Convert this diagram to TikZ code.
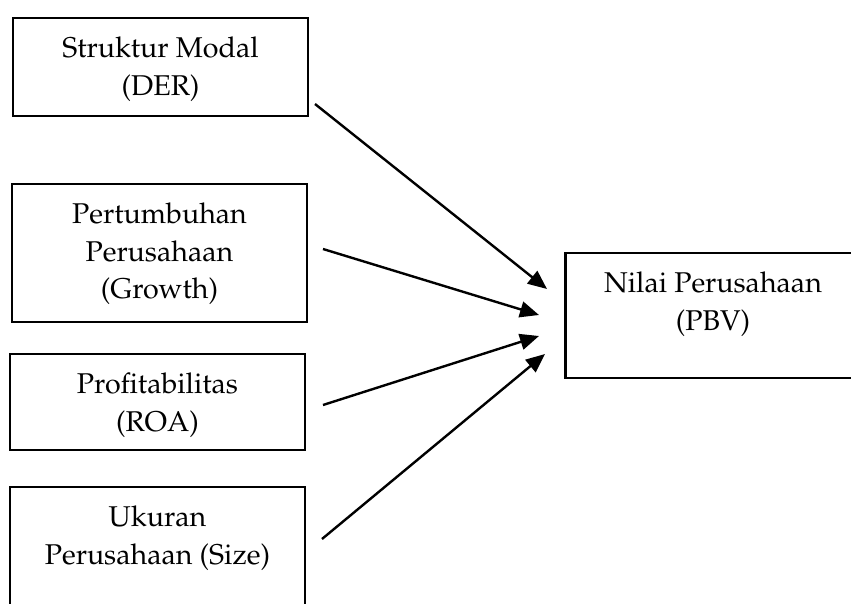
\documentclass[tikz,border=0pt]{standalone}
\IfFileExists{mathpazo.sty}{\usepackage[T1]{fontenc}\usepackage{mathpazo}}{\usepackage{fontspec}\setmainfont{Liberation Serif}}
\usetikzlibrary{arrows.meta}

\tikzset{
  kotak/.style={draw, line width=1.2pt, align=center, anchor=north,
    minimum width=147.5pt, inner sep=0pt, text height=38.5pt,
    font=\fontsize{14.3}{18.75}\selectfont},
  panah/.style={-{Triangle[length=9.5pt,width=8pt]}, line width=1.2pt},
}

\begin{document}
\begin{tikzpicture}[x=0.5pt, y=-0.5pt]

    \useasboundingbox (0,0) rectangle (851,604);
    \clip (0,0) rectangle (851,604);

    % VARIABEL X
    \node[kotak, text depth=10.5pt] (der) at (160.5,17) {Struktur Modal\\(DER)};
    \node[kotak, text height=57.25pt, text depth=11.75pt] (growth) at (159.5,183) {Pertumbuhan\\Perusahaan\\(Growth)};
    \node[kotak, text depth=9.5pt] (roa) at (157.5,353) {Profitabilitas\\(ROA)};
    \node[kotak, text depth=31.5pt] (size) at (157.5,486) {Ukuran\\Perusahaan (Size)};

    % VARIABEL Y
    \node[kotak, text depth=24pt] (pbv) at (713,252) {Nilai Perusahaan\\(PBV)};

    % UJUNG PANAH
    \coordinate (der-out) at (315,104);
    \coordinate (growth-out) at (323,249);
    \coordinate (roa-out) at (323,405);
    \coordinate (size-out) at (322,539);
    \coordinate (pbv-in1) at (547,289);
    \coordinate (pbv-in2) at (539,315);
    \coordinate (pbv-in3) at (539,336);
    \coordinate (pbv-in4) at (545,354);

    % PANAH
    \draw[panah] (der-out) -- (pbv-in1);
    \draw[panah] (growth-out) -- (pbv-in2);
    \draw[panah] (roa-out) -- (pbv-in3);
    \draw[panah] (size-out) -- (pbv-in4);

\end{tikzpicture}
\end{document}
